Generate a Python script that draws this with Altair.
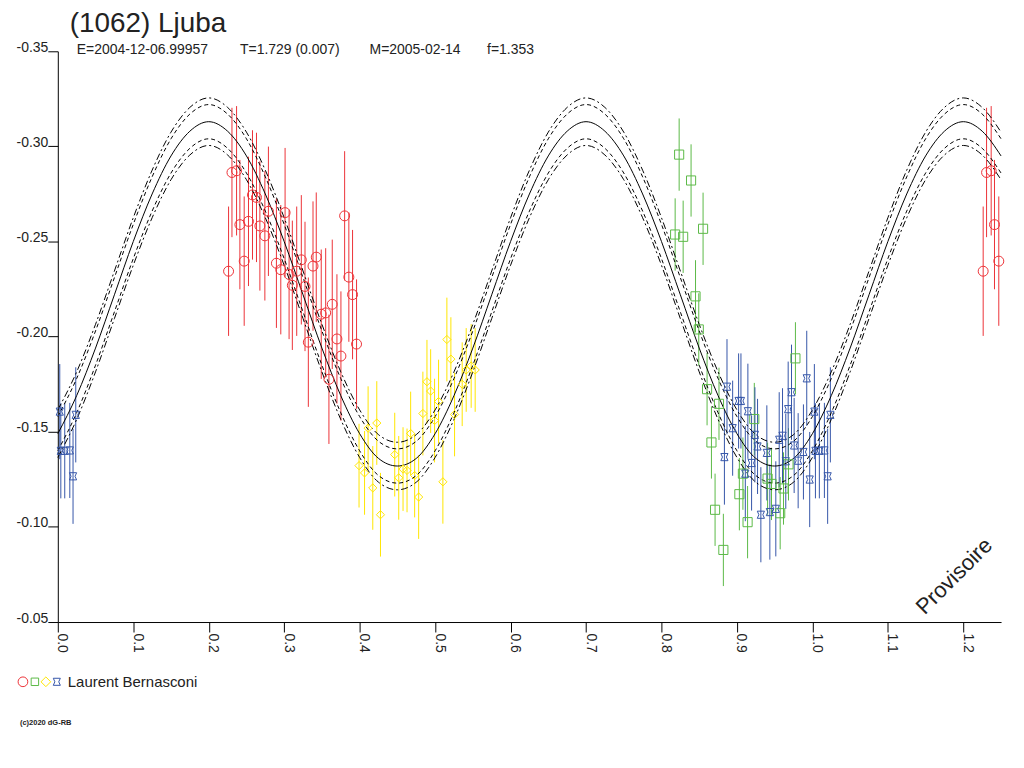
import altair as alt
import pandas as pd

FONT = "Liberation Sans"
INK = "#222222"

# ---------------- fitted light curve ----------------
CURVE_PHASE = [0.000, 0.025, 0.050, 0.075, 0.100, 0.125, 0.150, 0.175, 0.200, 0.225,
               0.250, 0.275, 0.300, 0.325, 0.350, 0.375, 0.400, 0.425, 0.450, 0.475,
               0.500, 0.525, 0.550, 0.575, 0.600, 0.625, 0.650, 0.675, 0.700, 0.725,
               0.750, 0.775, 0.800, 0.825, 0.850, 0.875, 0.900, 0.925, 0.950, 0.975,
               1.000, 1.025, 1.050, 1.075, 1.100, 1.125, 1.150, 1.175, 1.200, 1.225,
               1.250]
FIT_MID = [-0.149, -0.169, -0.194, -0.222, -0.250, -0.275, -0.295, -0.308, -0.313, -0.308,
           -0.295, -0.275, -0.250, -0.222, -0.194, -0.169, -0.149, -0.136, -0.132, -0.136,
           -0.149, -0.169, -0.194, -0.222, -0.250, -0.275, -0.295, -0.308, -0.313, -0.308,
           -0.295, -0.275, -0.250, -0.222, -0.194, -0.169, -0.149, -0.136, -0.132, -0.136,
           -0.149, -0.169, -0.194, -0.222, -0.250, -0.275, -0.295, -0.308, -0.313, -0.308,
           -0.295]
FIT_DASH_UP = [-0.158, -0.178, -0.203, -0.231, -0.259, -0.284, -0.304, -0.317, -0.322, -0.317,
               -0.304, -0.284, -0.259, -0.231, -0.203, -0.178, -0.158, -0.145, -0.141, -0.145,
               -0.158, -0.178, -0.203, -0.231, -0.259, -0.284, -0.304, -0.317, -0.322, -0.317,
               -0.304, -0.284, -0.259, -0.231, -0.203, -0.178, -0.158, -0.145, -0.141, -0.145,
               -0.158, -0.178, -0.203, -0.231, -0.259, -0.284, -0.304, -0.317, -0.322, -0.317,
               -0.304]
FIT_DASH_LO = [-0.140, -0.160, -0.185, -0.213, -0.241, -0.266, -0.286, -0.299, -0.304, -0.299,
               -0.286, -0.266, -0.241, -0.213, -0.185, -0.160, -0.140, -0.127, -0.123, -0.127,
               -0.140, -0.160, -0.185, -0.213, -0.241, -0.266, -0.286, -0.299, -0.304, -0.299,
               -0.286, -0.266, -0.241, -0.213, -0.185, -0.160, -0.140, -0.127, -0.123, -0.127,
               -0.140, -0.160, -0.185, -0.213, -0.241, -0.266, -0.286, -0.299, -0.304, -0.299,
               -0.286]
FIT_DOT_UP = [-0.1615, -0.1815, -0.2065, -0.2345, -0.2625, -0.2875, -0.3075, -0.3205, -0.3255, -0.3205,
              -0.3075, -0.2875, -0.2625, -0.2345, -0.2065, -0.1815, -0.1615, -0.1485, -0.1445, -0.1485,
              -0.1615, -0.1815, -0.2065, -0.2345, -0.2625, -0.2875, -0.3075, -0.3205, -0.3255, -0.3205,
              -0.3075, -0.2875, -0.2625, -0.2345, -0.2065, -0.1815, -0.1615, -0.1485, -0.1445, -0.1485,
              -0.1615, -0.1815, -0.2065, -0.2345, -0.2625, -0.2875, -0.3075, -0.3205, -0.3255, -0.3205,
              -0.3075]
FIT_DOT_LO = [-0.1365, -0.1565, -0.1815, -0.2095, -0.2375, -0.2625, -0.2825, -0.2955, -0.3005, -0.2955,
              -0.2825, -0.2625, -0.2375, -0.2095, -0.1815, -0.1565, -0.1365, -0.1235, -0.1195, -0.1235,
              -0.1365, -0.1565, -0.1815, -0.2095, -0.2375, -0.2625, -0.2825, -0.2955, -0.3005, -0.2955,
              -0.2825, -0.2625, -0.2375, -0.2095, -0.1815, -0.1565, -0.1365, -0.1235, -0.1195, -0.1235,
              -0.1365, -0.1565, -0.1815, -0.2095, -0.2375, -0.2625, -0.2825, -0.2955, -0.3005, -0.2955,
              -0.2825]

# ---------------- observations (phase in [0,1), relative magnitude) ----------------
RED_PHASE = [0.2263, 0.2308, 0.2369, 0.2413, 0.2470, 0.2527, 0.2580, 0.2633, 0.2678, 0.2744,
             0.2791, 0.2897, 0.2955, 0.3012, 0.3065, 0.3108, 0.3166, 0.3227, 0.3276, 0.3320,
             0.3382, 0.3425, 0.3491, 0.3550, 0.3593, 0.3637, 0.3699, 0.3752, 0.3801, 0.3857,
             0.3906, 0.3959]
RED_MAG = [-0.2344, -0.2863, -0.2872, -0.2589, -0.2397, -0.2606, -0.2745, -0.2732, -0.2582, -0.2530,
           -0.2659, -0.2386, -0.2352, -0.2652, -0.2327, -0.2270, -0.2344, -0.2404, -0.2264, -0.1971,
           -0.2371, -0.2418, -0.2118, -0.2125, -0.1776, -0.2170, -0.1988, -0.1898, -0.2635, -0.2313,
           -0.2221, -0.1961]

GREEN_PHASE = [0.8181, 0.8234, 0.8287, 0.8392, 0.8451, 0.8494, 0.8551, 0.8604, 0.8662, 0.8710,
               0.8762, 0.8820, 0.9032, 0.9079, 0.9141, 0.9230, 0.9406, 0.9458, 0.9573, 0.9617,
               0.9683, 0.9775]
GREEN_MAG = [-0.2537, -0.2957, -0.2525, -0.2821, -0.2212, -0.2038, -0.2567, -0.1724, -0.1444, -0.1090,
             -0.1647, -0.0879, -0.1172, -0.1280, -0.1025, -0.1567, -0.1254, -0.1226, -0.1072, -0.1202,
             -0.1329, -0.1886]

YELLOW_PHASE = [0.3992, 0.4065, 0.4112, 0.4174, 0.4227, 0.4276, 0.4465, 0.4518, 0.4575, 0.4628,
                0.4676, 0.4729, 0.4782, 0.4838, 0.4892, 0.4941, 0.4993, 0.5046, 0.5103, 0.5156,
                0.5209, 0.5258, 0.5359, 0.5412, 0.5478, 0.5531]
YELLOW_MAG = [-0.1322, -0.1284, -0.1519, -0.1205, -0.1546, -0.1064, -0.1380, -0.1258, -0.1304, -0.1297,
              -0.1491, -0.1270, -0.1157, -0.1596, -0.1763, -0.1714, -0.1559, -0.1659, -0.1237, -0.1985,
              -0.1882, -0.1591, -0.1750, -0.1825, -0.1846, -0.1825]

BLUE_PHASE = [0.0026, 0.0040, 0.0092, 0.0159, 0.0202, 0.0238, 0.8834, 0.8868, 0.8943, 0.9022,
              0.9053, 0.9111, 0.9145, 0.9194, 0.9238, 0.9273, 0.9317, 0.9396, 0.9436, 0.9515,
              0.9560, 0.9604, 0.9647, 0.9679, 0.9723, 0.9758, 0.9811, 0.9881, 0.9925, 0.9964]
BLUE_MAG = [-0.1606, -0.1400, -0.1400, -0.1402, -0.1266, -0.1589, -0.1367, -0.1737, -0.1519, -0.1662,
            -0.1662, -0.1280, -0.1608, -0.1336, -0.1484, -0.1423, -0.1064, -0.1389, -0.1078, -0.1095,
            -0.1458, -0.1479, -0.1345, -0.1619, -0.1708, -0.1428, -0.1348, -0.1394, -0.1781, -0.1249]

SESSIONS = ["red", "green", "yellow", "blue"]
SESSION_ERR = {"red": 0.034, "green": 0.019, "yellow": 0.022, "blue": 0.025}
SESSION_COLOR = ["#ec3237", "#5cb947", "#ffe600", "#3556a8"]
BLUE_PATH = "M-1,-1L1,-1L0.55,0L1,1L-1,1L-0.55,0Z"
SESSION_SHAPE = ["circle", "square", "diamond", BLUE_PATH]
SESSION_SIZE = [100, 52, 88, 56]

TITLE = "(1062) Ljuba"
SUBTITLE_PARTS = ["E=2004-12-06.99957", "T=1.729 (0.007)", "M=2005-02-14", "f=1.353"]
OBSERVER = "Laurent Bernasconi"
COPYRIGHT = "(c)2020 dG-RB"
STAMP = "Provisoire"

X_TICKS = [0.0, 0.05, 0.1, 0.15, 0.2, 0.25, 0.3, 0.35, 0.4, 0.45, 0.5, 0.55, 0.6,
           0.65, 0.7, 0.75, 0.8, 0.85, 0.9, 0.95, 1.0, 1.05, 1.1, 1.15, 1.2, 1.25]
Y_TICKS = [-0.35, -0.30, -0.25, -0.20, -0.15, -0.10, -0.05]

W, H = 947, 573

# ---------------- build tables ----------------
curves = pd.DataFrame({
    "phase": CURVE_PHASE * 5,
    "mag": FIT_MID + FIT_DASH_UP + FIT_DASH_LO + FIT_DOT_UP + FIT_DOT_LO,
    "curve": (["mid"] * len(CURVE_PHASE) + ["dash_up"] * len(CURVE_PHASE) +
              ["dash_lo"] * len(CURVE_PHASE) + ["dot_up"] * len(CURVE_PHASE) +
              ["dot_lo"] * len(CURVE_PHASE)),
})
curves["style"] = curves["curve"].map(
    {"mid": "solid", "dash_up": "dash", "dash_lo": "dash", "dot_up": "dot", "dot_lo": "dot"})

frames = []
for name, ph, mg in [("red", RED_PHASE, RED_MAG), ("green", GREEN_PHASE, GREEN_MAG),
                     ("yellow", YELLOW_PHASE, YELLOW_MAG), ("blue", BLUE_PHASE, BLUE_MAG)]:
    frames.append(pd.DataFrame({"phase": ph, "mag": mg, "session": name,
                                "err": SESSION_ERR[name]}))
obs = pd.concat(frames, ignore_index=True)
wrap = obs[obs["phase"] + 1 <= 1.25].copy()
wrap["phase"] = wrap["phase"] + 1
obs = pd.concat([obs, wrap], ignore_index=True)
obs["lo"] = obs["mag"] - obs["err"]
obs["hi"] = obs["mag"] + obs["err"]

# ---------------- scales & axes ----------------
xs = alt.Scale(domain=[0, 1.25], nice=False, zero=False)
ys = alt.Scale(domain=[-0.35, -0.05], reverse=True, nice=False, zero=False)
color = alt.Color("session:N", scale=alt.Scale(domain=SESSIONS, range=SESSION_COLOR), legend=None)

x_axis = alt.Axis(values=X_TICKS, title=None, grid=False,
                  labelExpr="(round(datum.value*20) % 2 == 0) ? format(datum.value, '.1f') : ''",
                  labelAngle=90, labelAlign="left", labelBaseline="alphabetic",
                  labelPadding=1, labelFlush=False, labelOverlap=False,
                  tickSize=10, tickColor="black", domainColor="black",
                  labelFont=FONT, labelFontSize=14, labelColor=INK)
y_axis = alt.Axis(values=Y_TICKS, title=None, grid=False,
                  labelExpr="'-' + format(-datum.value, '.2f')",
                  labelAlign="right", labelBaseline="alphabetic", labelPadding=0,
                  labelFlush=False, labelOverlap=False,
                  tickSize=10, tickColor="black", domainColor="black",
                  labelFont=FONT, labelFontSize=14, labelColor=INK)

errbars = alt.Chart(obs).mark_rule(strokeWidth=1).encode(
    x=alt.X("phase:Q", scale=xs, axis=x_axis),
    y=alt.Y("lo:Q", scale=ys, axis=y_axis),
    y2="hi:Q",
    color=color,
)

solid = alt.Chart(curves[curves["style"] == "solid"]).mark_line(
    color="black", strokeWidth=1, interpolate="monotone").encode(
    x=alt.X("phase:Q", scale=xs), y=alt.Y("mag:Q", scale=ys), detail="curve:N")
dashed = alt.Chart(curves[curves["style"] == "dash"]).mark_line(
    color="black", strokeWidth=1, strokeDash=[4, 3], interpolate="monotone").encode(
    x=alt.X("phase:Q", scale=xs), y=alt.Y("mag:Q", scale=ys), detail="curve:N")
dotted = alt.Chart(curves[curves["style"] == "dot"]).mark_line(
    color="black", strokeWidth=1, strokeDash=[7, 3, 2, 3], interpolate="monotone").encode(
    x=alt.X("phase:Q", scale=xs), y=alt.Y("mag:Q", scale=ys), detail="curve:N")

points = alt.Chart(obs).mark_point(filled=False, strokeWidth=1, opacity=1).encode(
    x=alt.X("phase:Q", scale=xs),
    y=alt.Y("mag:Q", scale=ys),
    color=color,
    shape=alt.Shape("session:N", scale=alt.Scale(domain=SESSIONS, range=SESSION_SHAPE), legend=None),
    size=alt.Size("session:N", scale=alt.Scale(domain=SESSIONS, range=SESSION_SIZE), legend=None),
)


def text_layer(txt, x, y, size, **kw):
    props = dict(text=txt, fontSize=size, font=FONT, align="left",
                 baseline="alphabetic", color=INK)
    props.update(kw)
    return alt.Chart(alt.Data(values=[{"t": txt}])).mark_text(**props).encode(
        x=alt.value(x), y=alt.value(y))


annot = [text_layer(TITLE, 12, -19, 28)]
for part, px in zip(SUBTITLE_PARTS, [19, 183, 313, 431]):
    annot.append(text_layer(part, px, 3, 14))
annot.append(text_layer(STAMP, 900, 527, 22, align="center", baseline="middle", angle=315))
annot.append(text_layer(OBSERVER, 10, 638, 15))
annot.append(text_layer(COPYRIGHT, -38, 676, 7.5, fontWeight="bold"))

legend_syms = []
for shp, col, sz, lx in zip(SESSION_SHAPE, SESSION_COLOR, [95, 56, 95, 50], [-35, -23, -12, -1]):
    legend_syms.append(
        alt.Chart(alt.Data(values=[{"s": 1}])).mark_point(
            shape=shp, filled=False, color=col, size=sz, strokeWidth=1, opacity=1).encode(
            x=alt.value(lx), y=alt.value(633)))

chart = alt.layer(errbars, dotted, dashed, solid, points, *annot, *legend_syms).properties(
    width=W, height=H,
    autosize=alt.AutoSizeParams(type="none"),
    padding={"left": 50, "top": 42, "right": 15, "bottom": 125},
    background="white",
).configure_view(stroke=None)

chart.save("out.html", embed_options={"renderer": "svg", "actions": False})
